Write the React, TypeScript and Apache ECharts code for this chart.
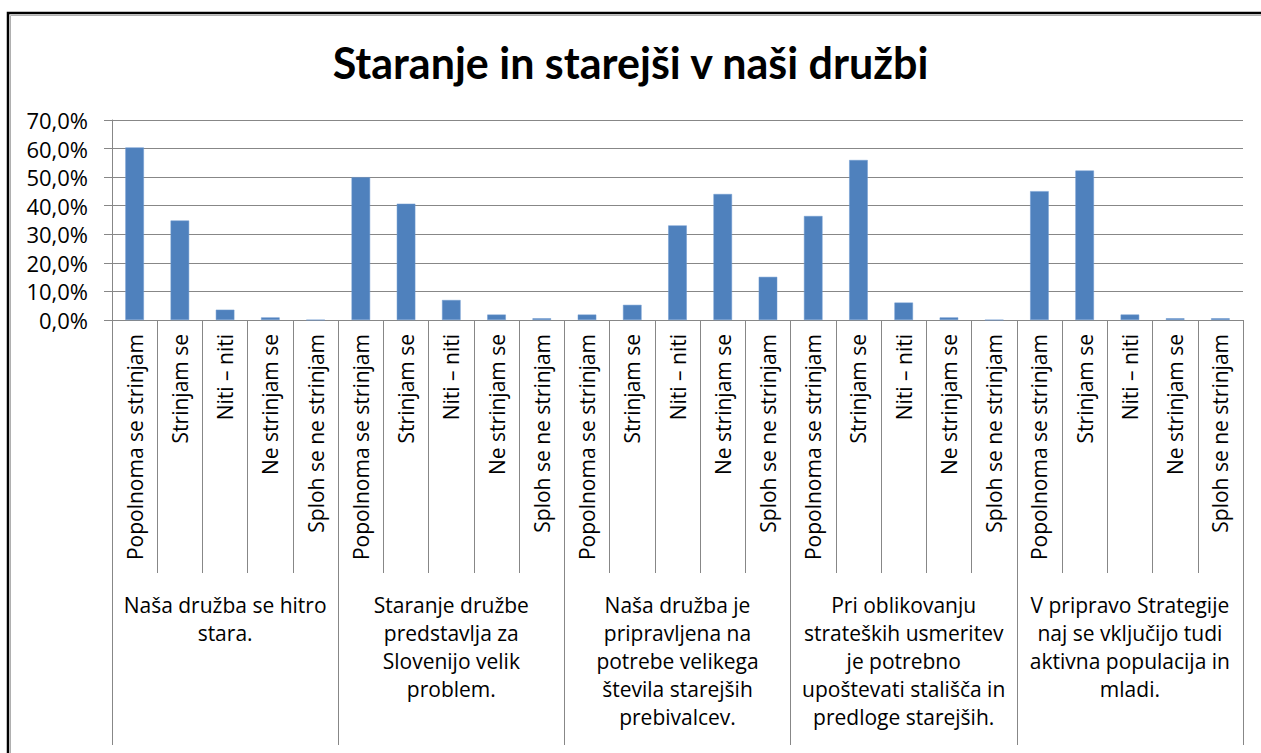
import React, { useEffect, useRef } from "react";
import * as echarts from "echarts";

const titleText = "Staranje in starejši v naši družbi";
const answers = ["Popolnoma se strinjam", "Strinjam se", "Niti – niti", "Ne strinjam se", "Sploh se ne strinjam"];
const statements = [
  "Naša družba se hitro\nstara.",
  "Staranje družbe\npredstavlja za\nSlovenijo velik\nproblem.",
  "Naša družba je\npripravljena na\npotrebe velikega\nštevila starejših\nprebivalcev.",
  "Pri oblikovanju\nstrateških usmeritev\nje potrebno\nupoštevati stališča in\npredloge starejših.",
  "V pripravo Strategije\nnaj se vključijo tudi\naktivna populacija in\nmladi.",
];
const categories = statements.flatMap(() => answers);
const values = [
  0.604, 0.348, 0.036, 0.009, 0.0,
  0.500, 0.407, 0.070, 0.019, 0.006,
  0.019, 0.053, 0.331, 0.441, 0.151,
  0.364, 0.560, 0.061, 0.009, 0.0,
  0.451, 0.523, 0.019, 0.006, 0.006,
];
const yTicks = { min: 0, max: 0.7, interval: 0.1 };

const FONT = "Open Sans";
const TITLE_FONT = "Lato";
const GRAY = "#878787";

export default function App() {
  const ref = useRef<HTMLDivElement>(null);
  useEffect(() => {
    if (!ref.current) return;
    const chart = echarts.init(ref.current, null, { renderer: "svg" });
    chart.setOption({
      animation: false,
      backgroundColor: "#ffffff",
      title: {
        text: titleText,
        left: "center",
        top: 36,
        textStyle: { fontFamily: TITLE_FONT, fontWeight: "bold", fontSize: 43, color: "#000" },
      },
      graphic: [
        {
          type: "rect",
          shape: { x: 8, y: 13, width: 1400, height: 900 },
          style: { fill: "none", stroke: "#000", lineWidth: 2.5 },
          silent: true,
        },
        {
          type: "rect",
          shape: { x: 10.5, y: 15.5, width: 1400, height: 900 },
          style: { fill: "none", stroke: "#b0b0b0", lineWidth: 1 },
          silent: true,
        },
      ],
      grid: { left: 112, right: 18, top: 120, bottom: 433, containLabel: false },
      xAxis: [
        {
          type: "category",
          data: categories,
          position: "bottom",
          axisLine: { show: true, lineStyle: { color: GRAY, width: 1 } },
          axisTick: { show: true, interval: 0, length: 253, lineStyle: { color: GRAY } },
          axisLabel: {
            interval: 0,
            rotate: 90,
            margin: 14,
            fontFamily: FONT,
            fontSize: 21,
            color: "#000",
          },
          splitLine: { show: false },
        },
        {
          type: "category",
          data: statements,
          position: "bottom",
          offset: 0,
          axisLine: { show: false },
          axisTick: { show: true, interval: 0, length: 425, lineStyle: { color: GRAY } },
          axisLabel: {
            interval: 0,
            margin: 271,
            fontFamily: FONT,
            fontSize: 21,
            lineHeight: 28,
            color: "#000",
            align: "center",
          },
          splitLine: { show: false },
        },
      ],
      yAxis: {
        type: "value",
        min: yTicks.min,
        max: yTicks.max,
        interval: yTicks.interval,
        axisLine: { show: true, lineStyle: { color: GRAY } },
        axisTick: { show: true, length: 8, lineStyle: { color: GRAY } },
        splitLine: { show: true, lineStyle: { color: GRAY, width: 1 } },
        axisLabel: {
          margin: 24,
          fontFamily: FONT,
          fontSize: 22,
          color: "#000",
          formatter: (v: number) => (v * 100).toFixed(1).replace(".", ",") + "%",
        },
      },
      series: [
        {
          type: "bar",
          xAxisIndex: 0,
          data: values,
          barCategoryGap: "59%",
          itemStyle: { color: "#4F81BD", borderColor: "#6f9ad0", borderWidth: 0.5 },
        },
      ],
    });
    return () => chart.dispose();
  }, []);
  return (
    <div
      ref={ref}
      style={{ position: "fixed", left: 0, top: 0, width: 1261, height: 753 }}
    />
  );
}
